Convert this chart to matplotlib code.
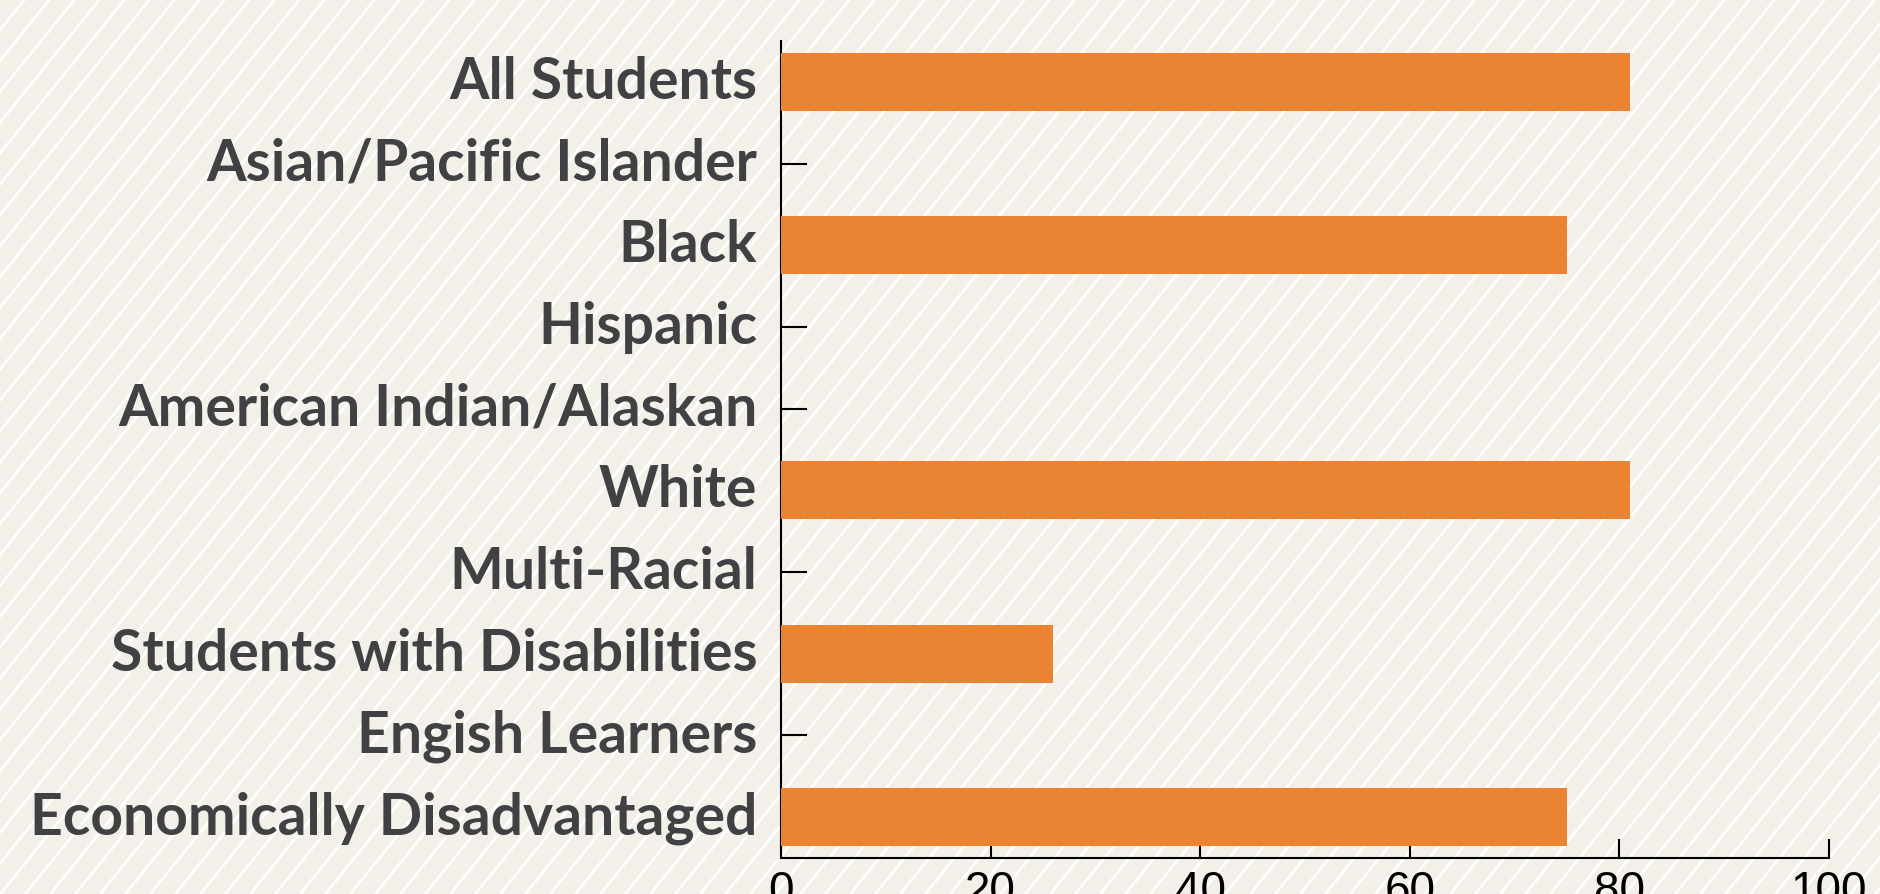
import numpy as np
import matplotlib
matplotlib.use("Agg")
import matplotlib.pyplot as plt
import matplotlib.transforms as mtrans

categories = ["All Students", "Asian/Pacific Islander", "Black", "Hispanic",
              "American Indian/Alaskan", "White", "Multi-Racial",
              "Students with Disabilities", "Engish Learners",
              "Economically Disadvantaged"]
values = [81, 0, 75, 0, 0, 81, 0, 26, 0, 75]
x_ticks = [0, 20, 40, 60, 80, 100]

bg_color = "#f2f0e8"
bar_color = "#ea8332"
label_color = "#414042"

fig = plt.figure(figsize=(18.8, 8.95), dpi=100)
fig.patch.set_facecolor(bg_color)

# striped background
bg = fig.add_axes([0, 0, 1, 1], zorder=0)
bg.set_xlim(0, 1880)
bg.set_ylim(0, 895)
bg.axis("off")
run = 895 / np.tan(np.radians(51))
for c in np.arange(-run, 1880 + 25, 25):
    bg.plot([c, c + run], [0, 895], color="white", lw=1.9, solid_capstyle="butt")

ax = fig.add_axes([0.4154, 0.0402, 0.9729 - 0.4154, 0.9531 - 0.0402], zorder=1)
ax.patch.set_alpha(0)
y = np.arange(len(categories))
ax.barh(y, values, height=0.71, color=bar_color, zorder=3)
ax.set_ylim(len(categories) - 0.5, -0.5)
ax.set_xlim(0, 100)
ax.set_yticks(y)
ax.set_yticklabels(categories, fontfamily="Lato", fontweight="bold",
                   fontsize=41, color=label_color)
ax.set_xticks(x_ticks)
ax.set_xticklabels([str(t) for t in x_ticks], fontfamily="Liberation Sans",
                   fontsize=33, color="black")
ax.tick_params(axis="y", direction="in", length=19, width=1.5, pad=17)
ax.tick_params(axis="x", direction="in", length=14, width=1.5, pad=8)
for s in ["top", "right"]:
    ax.spines[s].set_visible(False)
for s in ["left", "bottom"]:
    ax.spines[s].set_linewidth(1.5)

# labels sit a little above the bar centre in the original
shift = mtrans.ScaledTranslation(0, 4 / 72, fig.dpi_scale_trans)
for lbl in ax.get_yticklabels():
    lbl.set_transform(lbl.get_transform() + shift)

fig.savefig("out.png", dpi=100, facecolor=bg_color)
